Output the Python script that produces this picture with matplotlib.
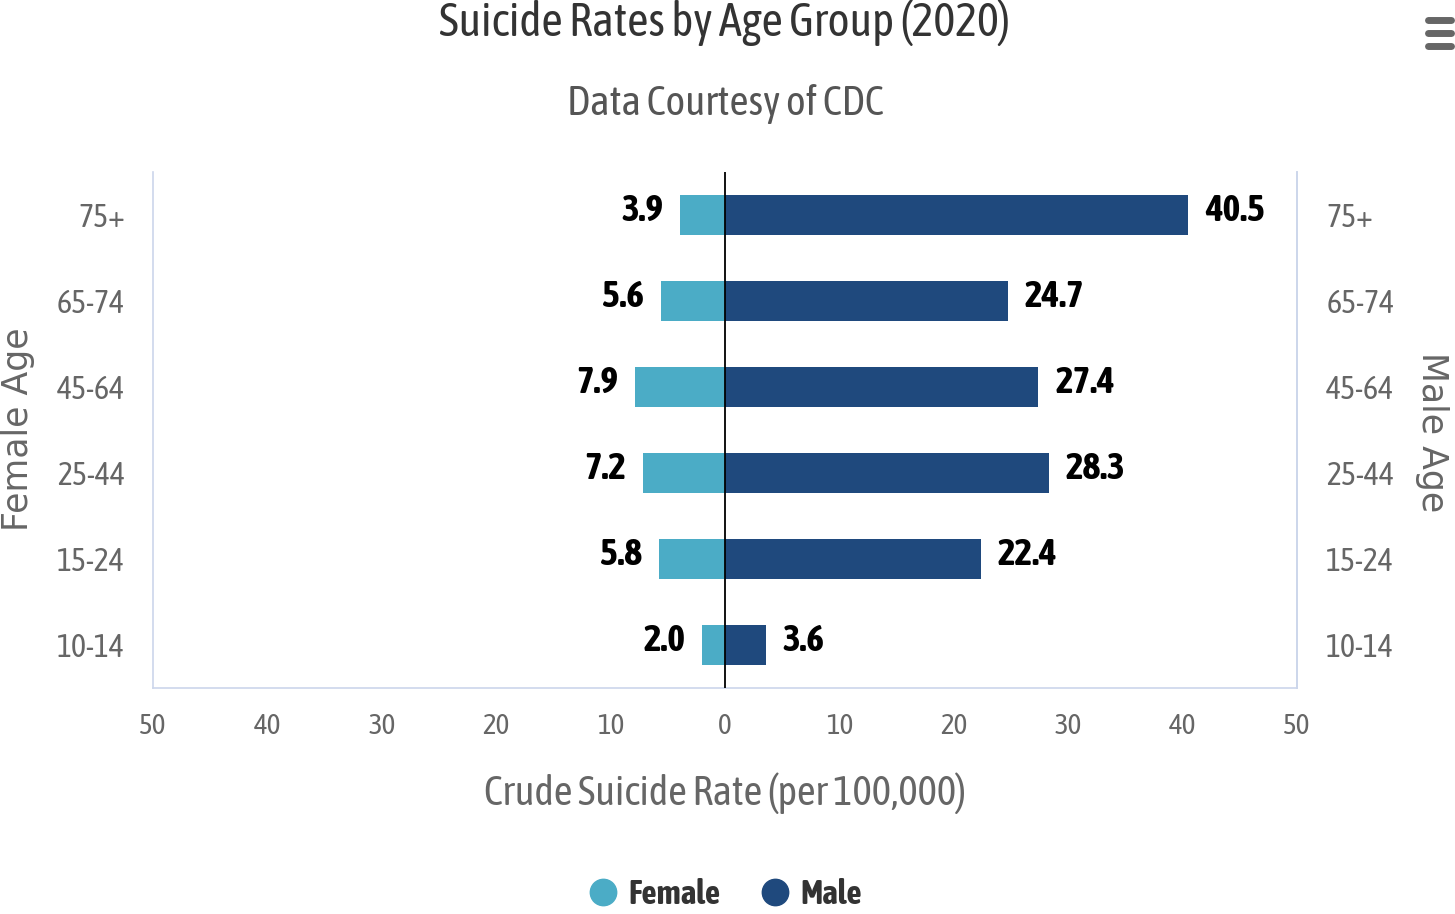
import matplotlib
matplotlib.use("Agg")
import matplotlib.pyplot as plt
from matplotlib.ticker import FuncFormatter, FixedLocator
from matplotlib.lines import Line2D

age_groups = ["10-14", "15-24", "25-44", "45-64", "65-74", "75+"]
female = [2.0, 5.8, 7.2, 7.9, 5.6, 3.9]
male = [3.6, 22.4, 28.3, 27.4, 24.7, 40.5]
x_ticks = [-50, -40, -30, -20, -10, 0, 10, 20, 30, 40, 50]

COND = ["Asap Condensed", "DejaVu Sans"]
REG = ["DejaVu Sans"]

C_F = "#4BACC6"
C_M = "#1F497D"
GRAY = "#666666"

fig = plt.figure(figsize=(14.55, 9.14), dpi=100)
ax = fig.add_axes([153/1455, 1-688/914, (1297-153)/1455, (688-172)/914])

y = list(range(len(age_groups)))
ax.barh(y, [-v for v in female], height=0.47, color=C_F, zorder=2)
ax.barh(y, male, height=0.47, color=C_M, zorder=2)
ax.axvline(0, color="black", lw=1.3, zorder=3)

ax.set_xlim(-50, 50)
ax.set_ylim(-0.5, len(age_groups) - 0.5)
ax.xaxis.set_major_locator(FixedLocator(x_ticks))
ax.xaxis.set_major_formatter(FuncFormatter(lambda v, p: f"{abs(v):g}"))
ax.set_yticks(y)
ax.set_yticklabels(age_groups)
ax.tick_params(axis="x", length=0, pad=18, labelsize=21, labelcolor=GRAY)
ax.tick_params(axis="y", length=0, pad=20, labelsize=23, labelcolor=GRAY)
for lab in ax.get_xticklabels() + ax.get_yticklabels():
    lab.set_fontfamily(COND)

ax.spines["top"].set_visible(False)
for s in ["left", "right", "bottom"]:
    ax.spines[s].set_color("#ccd6eb")
    ax.spines[s].set_linewidth(1.2)

ax2 = ax.twinx()
ax2.set_ylim(ax.get_ylim())
ax2.set_yticks(y)
ax2.set_yticklabels(age_groups)
ax2.tick_params(axis="y", length=0, pad=21, labelsize=23, labelcolor=GRAY)
for lab in ax2.get_yticklabels():
    lab.set_fontfamily(COND)
for s in ["top", "left", "bottom"]:
    ax2.spines[s].set_visible(False)
ax2.spines["right"].set_color("#ccd6eb")
ax2.spines["right"].set_linewidth(1.2)

for i, (f, m) in enumerate(zip(female, male)):
    ax.annotate(f"{f:.1f}", xy=(-f, i), xytext=(-12, 3), textcoords="offset points",
                ha="right", va="center", fontsize=27, fontweight="bold",
                family=COND, color="black")
    ax.annotate(f"{m:.1f}", xy=(m, i), xytext=(12, 3), textcoords="offset points",
                ha="left", va="center", fontsize=27, fontweight="bold",
                family=COND, color="black")

ax.set_xlabel("Crude Suicide Rate (per 100,000)", fontsize=29.5, family=COND,
              color=GRAY)
ax.xaxis.set_label_coords(0.5, -(793-688)/516, transform=ax.transAxes)
ax.xaxis.label.set_va("center")
ax.set_ylabel("Female Age", fontsize=25, family=REG, color=GRAY)
ax.yaxis.set_label_coords((18-153)/1144, (688-429)/516)
ax.yaxis.label.set_va("center")
ax2.set_ylabel("Male Age", fontsize=25, family=REG, color=GRAY, rotation=270)
ax2.yaxis.set_label_coords((1432-153)/1144, (688-432)/516)
ax2.yaxis.label.set_va("center")

fig.text(725/1455, 1-23/914, "Suicide Rates by Age Group (2020)", ha="center",
         va="center", fontsize=33.5, family=COND, color="#333333")
fig.text(725/1455, 1-104/914, "Data Courtesy of CDC", ha="center",
         va="center", fontsize=30, family=COND, color="#555555")

handles = [Line2D([0], [0], marker="o", color="none", markerfacecolor=C_F,
                  markeredgecolor=C_F, markersize=19, label="Female"),
           Line2D([0], [0], marker="o", color="none", markerfacecolor=C_M,
                  markeredgecolor=C_M, markersize=19, label="Male")]
leg = fig.legend(handles=handles, loc="center", bbox_to_anchor=(724/1455, 1-894/914),
                 ncol=2, frameon=False, handlelength=1.0, handletextpad=0.25,
                 columnspacing=1.15, borderpad=0,
                 prop={"family": COND, "weight": "bold", "size": 24})
for t in leg.get_texts():
    t.set_color("#333333")

for yy in [20, 33, 46]:
    fig.add_artist(Line2D([1428/1455, 1451/1455], [1-yy/914, 1-yy/914],
                          color="#666666", lw=5, solid_capstyle="round"))

fig.savefig("out.png", dpi=100, facecolor="white")
